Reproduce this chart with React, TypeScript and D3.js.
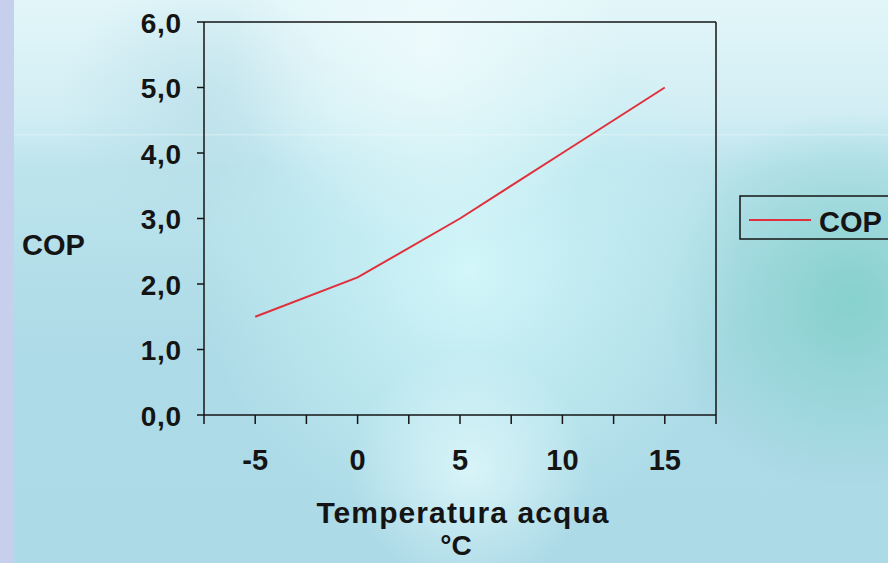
import React from "react";
import * as d3 from "d3";

const categories = ["-5", "0", "5", "10", "15"];
const copValues = [1.5, 2.1, 3.0, 4.0, 5.0];
const yTicks = [0, 1, 2, 3, 4, 5, 6];
const seriesName = "COP";
const yTitle = "COP";
const xTitleLines = ["Temperatura acqua", "°C"];

const W = 888;
const H = 563;
const left = 204;
const right = 716;
const top = 22;
const bottom = 415;

export default function App() {
  const x = d3.scaleBand<string>().domain(categories).range([left, right]).padding(0);
  const y = d3.scaleLinear().domain([0, 6]).range([bottom, top]);
  const fmt = (v: number) => d3.format(".1f")(v).replace(".", ",");
  const line = d3
    .line<number>()
    .x((_, i) => (x(categories[i]) as number) + x.bandwidth() / 2)
    .y((d) => y(d));

  const bw = x.bandwidth();
  const xTickPos: number[] = [];
  categories.forEach((c) => {
    const s = x(c) as number;
    xTickPos.push(s, s + bw / 2);
  });
  xTickPos.push(right);

  const font = "'Liberation Sans', Arial, sans-serif";
  const ink = "#141414";

  return (
    <svg
      width={W}
      height={H}
      style={{ position: "absolute", left: 0, top: 0 }}
      fontFamily={font}
    >
      <defs>
        <linearGradient id="base" x1="0" y1="0" x2="0" y2="1">
          <stop offset="0" stopColor="#e2f6f9" />
          <stop offset="0.2" stopColor="#d2eef4" />
          <stop offset="0.3" stopColor="#bce4ed" />
          <stop offset="0.6" stopColor="#aedbe7" />
          <stop offset="1" stopColor="#acdae7" />
        </linearGradient>
        <radialGradient id="glow1" cx="470" cy="270" r="270" gradientUnits="userSpaceOnUse">
          <stop offset="0" stopColor="#d4f8fb" stopOpacity="0.95" />
          <stop offset="0.6" stopColor="#c6f0f4" stopOpacity="0.5" />
          <stop offset="1" stopColor="#c6f0f4" stopOpacity="0" />
        </radialGradient>
        <radialGradient id="glow2" cx="430" cy="50" r="200" gradientUnits="userSpaceOnUse">
          <stop offset="0" stopColor="#f4fdfe" stopOpacity="0.75" />
          <stop offset="1" stopColor="#f4fdfe" stopOpacity="0" />
        </radialGradient>
        <radialGradient id="glow3" cx="470" cy="470" r="120" gradientUnits="userSpaceOnUse">
          <stop offset="0" stopColor="#e4fafc" stopOpacity="0.75" />
          <stop offset="1" stopColor="#e4fafc" stopOpacity="0" />
        </radialGradient>
        <radialGradient id="teal" cx="850" cy="300" r="190" gradientUnits="userSpaceOnUse">
          <stop offset="0" stopColor="#84d0cc" stopOpacity="0.95" />
          <stop offset="1" stopColor="#84d0cc" stopOpacity="0" />
        </radialGradient>
        <radialGradient id="blue1" cx="200" cy="110" r="140" gradientUnits="userSpaceOnUse">
          <stop offset="0" stopColor="#b4dbe6" stopOpacity="0.6" />
          <stop offset="1" stopColor="#b4dbe6" stopOpacity="0" />
        </radialGradient>
      </defs>

      <rect x={0} y={0} width={W} height={H} fill="url(#base)" />
      <rect x={0} y={0} width={W} height={H} fill="url(#teal)" />
      <rect x={0} y={0} width={W} height={H} fill="url(#blue1)" />
      <rect x={0} y={0} width={W} height={H} fill="url(#glow1)" />
      <rect x={0} y={0} width={W} height={H} fill="url(#glow2)" />
      <rect x={0} y={0} width={W} height={H} fill="url(#glow3)" />
      <rect x={14} y={134} width={W - 14} height={1.5} fill="#ffffff" opacity={0.25} />
      <rect x={0} y={0} width={14} height={H} fill="#c6d0ec" />

      {/* plot frame */}
      <line x1={left} x2={right} y1={top} y2={top} stroke={ink} strokeWidth={1.5} />
      <line x1={right} x2={right} y1={top} y2={bottom} stroke={ink} strokeWidth={1.5} />
      <line x1={left} x2={left} y1={top} y2={bottom} stroke={ink} strokeWidth={1.5} />
      <line x1={left} x2={right} y1={bottom} y2={bottom} stroke={ink} strokeWidth={1.5} />

      {/* y ticks */}
      {yTicks.map((t) => (
        <g key={t}>
          <line x1={left - 7} x2={left} y1={y(t)} y2={y(t)} stroke={ink} strokeWidth={1.5} />
          <text
            x={182}
            y={y(t) + 10.5}
            textAnchor="end"
            fontSize={28}
            fontWeight="bold"
            letterSpacing={0.8}
            fill={ink}
          >
            {fmt(t)}
          </text>
        </g>
      ))}

      {/* x ticks */}
      {xTickPos.map((p, i) => (
        <line key={i} x1={p} x2={p} y1={bottom} y2={bottom + 9} stroke={ink} strokeWidth={1.5} />
      ))}
      {categories.map((c) => (
        <text
          key={c}
          x={(x(c) as number) + bw / 2}
          y={470}
          textAnchor="middle"
          fontSize={29}
          fontWeight="bold"
          fill={ink}
        >
          {c}
        </text>
      ))}

      {/* axis titles */}
      <text x={463} y={523} textAnchor="middle" fontSize={30} fontWeight="bold" letterSpacing={1.1} fill={ink}>
        {xTitleLines[0]}
      </text>
      <text x={456} y={555} textAnchor="middle" fontSize={28} fontWeight="bold" fill={ink}>
        {xTitleLines[1]}
      </text>
      <text x={22} y={255} fontSize={29} fontWeight="bold" fill={ink}>
        {yTitle}
      </text>

      {/* series */}
      <path d={line(copValues) || ""} fill="none" stroke="#e0303c" strokeWidth={2} />

      {/* legend */}
      <rect x={740} y={196} width={160} height={43} fill="none" stroke={ink} strokeWidth={1.5} />
      <line x1={749} x2={811} y1={220} y2={220} stroke="#e0303c" strokeWidth={2} />
      <text x={819} y={232} fontSize={29} fontWeight="bold" fill={ink}>
        {seriesName}
      </text>
    </svg>
  );
}
